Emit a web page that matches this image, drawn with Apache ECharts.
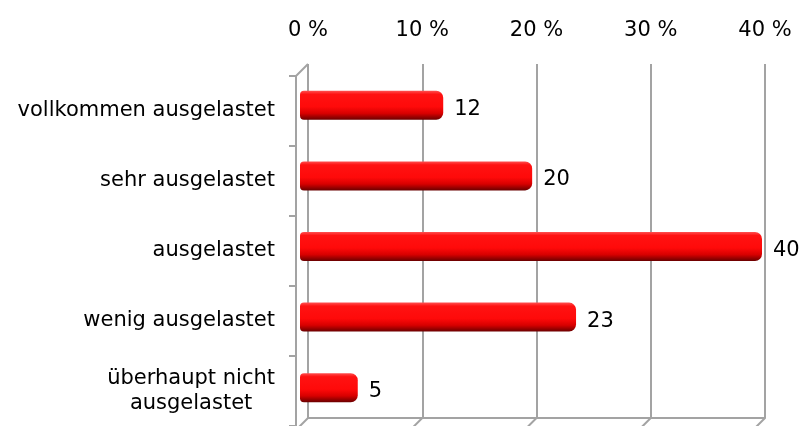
<!DOCTYPE html>
<html><head><meta charset="utf-8">
<script src="https://cdn.jsdelivr.net/npm/echarts@6/dist/echarts.min.js"></script>
<style>html,body{margin:0;padding:0;background:#fff}#c{width:811px;height:426px}</style>
</head><body><div id="c"></div>
<script>
const categories = ['vollkommen ausgelastet', 'sehr ausgelastet', 'ausgelastet', 'wenig ausgelastet', 'überhaupt nicht\nausgelastet'];
// bar lengths as drawn in the picture (percent)
const values = [12.4, 20.1, 40, 23.9, 5];
// value labels as printed next to the bars
const valueLabels = ['12', '20', '40', '23', '5'];
const tickMax = 40, tickStep = 10;

const FONT = 'DejaVu Sans';
const FS = 21;
const GRID_COL = '#a3a3a3';
const chart = echarts.init(document.getElementById('c'), null, {renderer: 'canvas'});

const barGrad = new echarts.graphic.LinearGradient(0, 0, 0, 1, [
  {offset: 0, color: '#ff5050'},
  {offset: 0.12, color: '#ff1212'},
  {offset: 0.55, color: '#ff0a0a'},
  {offset: 0.78, color: '#d80000'},
  {offset: 1, color: '#6a0000'}
]);

chart.setOption({
  animation: false,
  grid: [
    {left: 308, top: 64, width: 457, height: 354},
    {left: 300, top: 70, width: 462, height: 353},
    {left: 296, top: 76, width: 10, height: 355}
  ],
  xAxis: [
    {gridIndex: 0, type: 'value', position: 'top', min: 0, max: tickMax, interval: tickStep,
     axisLine: {show: true, lineStyle: {color: GRID_COL, width: 2}},
     axisTick: {show: false},
     axisLabel: {formatter: '{value} %', fontFamily: FONT, fontSize: FS, color: '#000', margin: 23},
     splitLine: {show: true, lineStyle: {color: GRID_COL, width: 2}}},
    {gridIndex: 1, type: 'value', min: 0, max: tickMax, show: false},
    {gridIndex: 2, type: 'value', show: false}
  ],
  yAxis: [
    {gridIndex: 0, type: 'value', show: false},
    {gridIndex: 1, type: 'category', data: categories, inverse: true, show: false},
    {gridIndex: 2, type: 'category', data: categories, inverse: true,
     axisLine: {show: true, lineStyle: {color: GRID_COL, width: 2}},
     axisTick: {show: true, length: 7, lineStyle: {color: GRID_COL, width: 2}},
     axisLabel: {fontFamily: FONT, fontSize: FS, color: '#000', margin: 21, lineHeight: 25,
       formatter: function (v) {
         if (v.indexOf('\n') >= 0) return v.split('\n').map(s => '{c|' + s + '}').join('\n');
         return v;
       },
       rich: {c: {align: 'center', fontFamily: FONT, fontSize: FS, color: '#000', lineHeight: 25}}}
    }
  ],
  series: [{
    type: 'bar', xAxisIndex: 1, yAxisIndex: 1, data: values, barWidth: 29,
    itemStyle: {color: barGrad, borderRadius: [4, 7, 7, 4]},
    label: {show: true, position: 'right', distance: 11, offset: [0, 4],
      formatter: p => valueLabels[p.dataIndex],
      fontFamily: FONT, fontSize: FS, color: '#000'}
  }]
});

// 3D frame diagonals derived from axis positions
const gA = chart.getModel().getComponent('grid', 0).coordinateSystem.getRect();
const gC = chart.getModel().getComponent('grid', 2).coordinateSystem.getRect();
const d = gA.x - gC.x;
const els = [];
els.push({type: 'line', shape: {x1: gC.x, y1: gA.y + d, x2: gA.x, y2: gA.y}, style: {stroke: GRID_COL, lineWidth: 2}});
for (let v = 0; v <= tickMax; v += tickStep) {
  const x = chart.convertToPixel({xAxisIndex: 0}, v);
  els.push({type: 'line', shape: {x1: x, y1: gA.y + gA.height, x2: x - d, y2: gA.y + gA.height + d}, style: {stroke: GRID_COL, lineWidth: 2}});
}
chart.setOption({graphic: els});
</script></body></html>
